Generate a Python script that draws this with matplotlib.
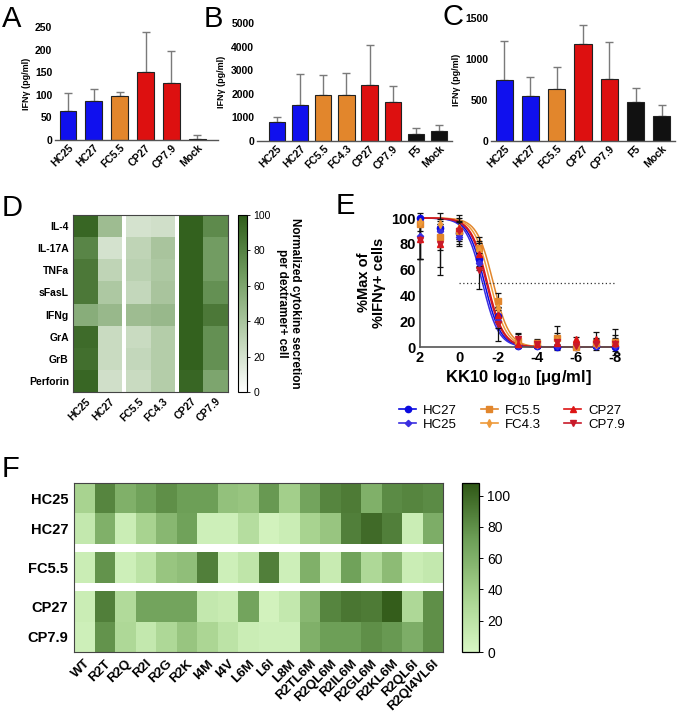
import numpy as np
import matplotlib
matplotlib.use('Agg')
import matplotlib.pyplot as plt
from matplotlib.colors import LinearSegmentedColormap

plt.rcParams['font.family'] = ['Liberation Sans', 'DejaVu Sans']
plt.rcParams['mathtext.fontset'] = 'custom'
plt.rcParams['mathtext.rm'] = 'Liberation Sans'
plt.rcParams['mathtext.bf'] = 'Liberation Sans:bold'
plt.rcParams['axes.unicode_minus'] = False

# ---- data ----
# panel A
a_names = ['HC25', 'HC27', 'FC5.5', 'CP27', 'CP7.9', 'Mock']
a_vals = [65, 87, 97, 151, 127, 3]
a_errs = [40, 26, 10, 88, 71, 8]
# panel B
b_names = ['HC25', 'HC27', 'FC5.5', 'FC4.3', 'CP27', 'CP7.9', 'F5', 'Mock']
b_vals = [800, 1520, 1950, 1950, 2370, 1650, 290, 430]
b_errs = [230, 1320, 850, 920, 1690, 690, 280, 250]
# panel C
c_names = ['HC25', 'HC27', 'FC5.5', 'CP27', 'CP7.9', 'F5', 'Mock']
c_vals = [740, 550, 630, 1180, 750, 470, 305]
c_errs = [480, 225, 275, 230, 460, 180, 135]

# panel D
d_rows = ['IL-4', 'IL-17A', 'TNFa', 'sFasL', 'IFNg', 'GrA', 'GrB', 'Perforin']
d_cols = ['HC25', 'HC27', 'FC5.5', 'FC4.3', 'CP27', 'CP7.9']
d_vals = [[95, 45, 20, 22, 98, 75],
          [78, 20, 30, 40, 98, 65],
          [85, 30, 32, 38, 98, 65],
          [85, 38, 28, 40, 98, 72],
          [55, 48, 45, 48, 98, 85],
          [92, 25, 25, 35, 98, 72],
          [90, 25, 28, 35, 98, 72],
          [95, 22, 25, 35, 95, 60]]

# panel E
e_x = [2, 1, 0, -1, -2, -3, -4, -5, -6, -7, -8]
e_names = ['HC27', 'HC25', 'FC5.5', 'FC4.3', 'CP27', 'CP7.9']
e_y = {'HC27':  [100, 92, 88, 68, 24, 1, 1, 0, 0, 1, 0],
       'HC25':  [86, 90, 85, 65, 20, 1, 1, 1, 0, 1, 1],
       'FC5.5': [95, 85, 90, 77, 36, 5, 3, 7, 0, 3, 4],
       'FC4.3': [97, 95, 92, 75, 30, 3, 2, 5, 1, 2, 3],
       'CP27':  [84, 80, 92, 72, 25, 2, 2, 3, 6, 6, 3],
       'CP7.9': [83, 80, 90, 60, 18, 6, 2, 4, 1, 2, 2]}
e_err = {'HC27':  [0, 2, 4, 5, 5, 1, 1, 1, 0, 1, 1],
         'HC25':  [18, 5, 5, 5, 5, 1, 1, 1, 1, 1, 1],
         'FC5.5': [5, 10, 8, 8, 6, 5, 3, 9, 1, 4, 10],
         'FC4.3': [3, 4, 5, 6, 6, 4, 3, 6, 1, 3, 6],
         'CP27':  [16, 18, 8, 10, 6, 2, 2, 3, 2, 6, 4],
         'CP7.9': [15, 24, 12, 15, 13, 5, 2, 4, 1, 4, 3]}
# fitted log EC50 and hill slope
e_ec50 = {'HC27': -1.3, 'HC25': -1.2, 'FC5.5': -1.75, 'FC4.3': -1.6,
          'CP27': -1.45, 'CP7.9': -1.4}
e_hill = {'HC27': 1.05, 'HC25': 1.05, 'FC5.5': 1.05, 'FC4.3': 1.05,
          'CP27': 1.05, 'CP7.9': 1.05}

# panel F
f_rows = ['HC25', 'HC27', 'FC5.5', 'CP27', 'CP7.9']
f_cols = ['WT', 'R2T', 'R2Q', 'R2I', 'R2G', 'R2K', 'I4M', 'I4V', 'L6M', 'L6I',
          'L8M', 'R2TL6M', 'R2QL6M', 'R2IL6M', 'R2GL6M', 'R2KL6M', 'R2QL6I',
          'R2QI4VL6I']
f_vals = [[35, 85, 60, 70, 80, 72, 72, 48, 45, 75, 38, 68, 85, 90, 60, 82, 85, 82],
          [15, 60, 10, 35, 55, 70, 8, 8, 25, 5, 10, 35, 45, 88, 98, 88, 10, 62],
          [10, 78, 8, 20, 45, 50, 88, 8, 18, 88, 8, 60, 12, 70, 30, 52, 10, 15],
          [10, 88, 28, 68, 68, 68, 15, 12, 68, 5, 15, 55, 85, 92, 90, 105, 30, 80],
          [8, 78, 30, 15, 30, 45, 32, 20, 10, 8, 8, 60, 72, 72, 80, 75, 62, 80]]

W, H = 677, 728
fig = plt.figure(figsize=(W / 100, H / 100), dpi=100)


def px_ax(l, t, r, b):
    return fig.add_axes([l / W, 1 - b / H, (r - l) / W, (b - t) / H])


BLUE = '#1010ee'
ORANGE = '#e2862c'
RED = '#dd1010'
BLACK = '#111111'
col_map = {'HC25': BLUE, 'HC27': BLUE, 'FC5.5': ORANGE, 'FC4.3': ORANGE,
           'CP27': RED, 'CP7.9': RED, 'F5': BLACK, 'Mock': BLACK}


def bar_panel(ax, names, vals, errs, ymax, step, xlim, width):
    x = np.arange(len(names))
    cols = [col_map[n] for n in names]
    ax.bar(x, vals, width=width, color=cols, edgecolor='#222222', linewidth=0.8, zorder=2)
    ax.errorbar(x, vals, yerr=[np.zeros(len(vals)), errs], fmt='none',
                ecolor='#7a7a7a', elinewidth=1.0, capsize=3, capthick=1.0, zorder=1)
    ax.set_ylim(0, ymax)
    ax.set_xlim(*xlim)
    ax.set_yticks(np.arange(0, ymax + 1, step))
    ax.set_xticks(x)
    ax.set_xticklabels(names, rotation=45, ha='right', rotation_mode='anchor',
                       fontsize=7.5, fontweight='bold')
    for t in ax.get_yticklabels():
        t.set_fontweight('bold')
        t.set_fontsize(7.5)
    ax.tick_params(length=0, pad=2)
    for s in ['top', 'right', 'left']:
        ax.spines[s].set_visible(False)
    ax.spines['bottom'].set_color('#555555')
    ax.spines['bottom'].set_linewidth(1.0)
    ax.set_ylabel('IFNγ (pg/ml)', fontsize=6.5, fontweight='bold', labelpad=3)


axA = px_ax(55, 27, 218, 140)
bar_panel(axA, a_names, a_vals, a_errs, 250, 50, (-0.5, 5.8), 0.65)
axB = px_ax(257, 23, 452, 141)
bar_panel(axB, b_names, b_vals, b_errs, 5000, 1000, (-0.85, 7.55), 0.7)
axB.set_ylabel('IFNγ (pg/ml)', fontsize=6.5, fontweight='bold', labelpad=4)
axC = px_ax(491, 18, 675, 141)
bar_panel(axC, c_names, c_vals, c_errs, 1500, 500, (-0.5, 6.5), 0.65)

# ---- panel D ----
cmapD = LinearSegmentedColormap.from_list('dgreen', ['#ffffff', '#b7cfad', '#6f9a5e', '#2f5d1a'])
axD = px_ax(73, 215, 228, 392)
dv = np.array(d_vals, dtype=float)
gap = 0.16
groups = [(0, 2), (2, 4), (4, 6)]
xcent = []
x0 = 0.0
for gi, (s, e) in enumerate(groups):
    edges = x0 + np.arange(e - s + 1)
    yedges = np.arange(len(d_rows) + 1)
    meshD = axD.pcolormesh(edges, yedges, dv[:, s:e], cmap=cmapD, vmin=0, vmax=100)
    xcent += list(edges[:-1] + 0.5)
    x0 = edges[-1] + gap
axD.set_xlim(0, x0 - gap)
axD.set_ylim(len(d_rows), 0)
axD.set_xticks(xcent)
axD.set_xticklabels(d_cols, rotation=45, ha='right', rotation_mode='anchor',
                    fontsize=7.5, fontweight='bold')
axD.set_yticks(np.arange(len(d_rows)) + 0.5)
axD.set_yticklabels(d_rows, fontsize=7.5, fontweight='bold')
axD.tick_params(length=0, pad=3)
for s in axD.spines.values():
    s.set_color('#444444')
    s.set_linewidth(0.8)

caxD = px_ax(238, 215, 247, 392)
cbD = fig.colorbar(meshD, cax=caxD, ticks=np.arange(0, 101, 20))
cbD.ax.tick_params(labelsize=7.5, length=2.5, width=0.6, pad=2)
cbD.outline.set_linewidth(0.8)
cbD.set_label('Normalized cytokine secretion\nper dextramer+ cell', rotation=270,
              fontsize=8.5, fontweight='bold', labelpad=22, linespacing=1.1)

# ---- panel E ----
axE = px_ax(420, 218, 617, 347)
e_style = {'HC27': ('#0a0ae0', 'o', 4.5), 'HC25': ('#3a2ee0', 'D', 3.2),
           'FC5.5': ('#e2862c', 's', 4.5), 'FC4.3': ('#ee9a3a', 'd', 4),
           'CP27': ('#dd1515', '^', 4.2), 'CP7.9': ('#c81a2a', 'v', 4.2)}
xs = np.linspace(2, -8, 300)
handles = []
for n in e_names:
    c, m, ms = e_style[n]
    ycurve = 100.0 / (1 + 10 ** (e_hill[n] * (e_ec50[n] - xs)))
    axE.plot(xs, ycurve, color=c, lw=1.1, zorder=2, clip_on=False)
    axE.errorbar(e_x, e_y[n], yerr=e_err[n], fmt='none', ecolor='#111111',
                 elinewidth=0.9, capsize=2.5, capthick=0.9, zorder=3, clip_on=False)
    axE.plot(e_x, e_y[n], ls='none', marker=m, ms=ms, color=c, zorder=4, clip_on=False)
    h, = axE.plot([], [], color=c, marker=m, ms=ms, lw=1.2)
    handles.append(h)
axE.hlines(50, 0, -8, colors='#333333', linestyles=(0, (1, 2)), lw=0.9)
axE.set_xlim(2, -8.1)
axE.set_ylim(0, 100)
axE.set_xticks([2, 0, -2, -4, -6, -8])
axE.set_yticks(np.arange(0, 101, 20))
for t in axE.get_xticklabels() + axE.get_yticklabels():
    t.set_fontweight('bold')
    t.set_fontsize(10.5)
axE.tick_params(length=0, pad=3)
for s in ['top', 'right']:
    axE.spines[s].set_visible(False)
for s in ['left', 'bottom']:
    axE.spines[s].set_color('#555555')
    axE.spines[s].set_linewidth(1.2)
axE.set_ylabel('%Max of\n%IFNγ+ cells', fontsize=10.5, fontweight='bold',
               linespacing=1.05, labelpad=4)
axE.set_xlabel('KK10 log$_{\\mathbf{10}}$ [μg/ml]', fontsize=12, fontweight='bold', labelpad=2)
fig.legend(handles, e_names, ncol=3, loc='upper center',
           bbox_to_anchor=(512 / W, 1 - 398 / H), frameon=False, fontsize=9.5,
           handlelength=1.3, handletextpad=0.5, columnspacing=1.8,
           labelspacing=0.15, borderpad=0)

# ---- panel F ----
cmapF = LinearSegmentedColormap.from_list('fgreen', ['#d8f7c4', '#a6d28e', '#6d9f57', '#2f5716'])
axF = px_ax(74, 483, 443, 652)
fv = np.array(f_vals, dtype=float)
rgap = 0.28
rgroups = [(0, 2), (2, 3), (3, 5)]
ycent = []
y0 = 0.0
xedges = np.arange(len(f_cols) + 1)
for s, e in rgroups:
    yedges = y0 + np.arange(e - s + 1)
    meshF = axF.pcolormesh(xedges, yedges, fv[s:e, :], cmap=cmapF, vmin=0, vmax=108)
    ycent += list(yedges[:-1] + 0.5)
    y0 = yedges[-1] + rgap
axF.set_ylim(y0 - rgap, 0)
axF.set_xlim(0, len(f_cols))
axF.set_yticks(ycent)
axF.set_yticklabels(f_rows, fontsize=10.5, fontweight='bold')
axF.set_xticks(np.arange(len(f_cols)) + 0.5)
axF.set_xticklabels(f_cols, rotation=45, ha='right', rotation_mode='anchor',
                    fontsize=9.5, fontweight='bold')
axF.tick_params(length=0, pad=4)
for s in axF.spines.values():
    s.set_color('#444444')
    s.set_linewidth(0.8)

caxF = px_ax(462, 483, 479, 652)
cbF = fig.colorbar(meshF, cax=caxF, ticks=np.arange(0, 101, 20))
cbF.ax.tick_params(labelsize=10, length=3, width=0.7, pad=3)
cbF.outline.set_linewidth(0.9)

# panel letters
for lab, x, y in [('A', 2, 27), ('B', 204, 27), ('C', 443, 25), ('D', 2, 216),
                  ('E', 336, 214), ('F', 2, 477)]:
    fig.text(x / W, 1 - y / H, lab, fontsize=21, va='baseline', ha='left')

fig.savefig('out.png', dpi=100)
